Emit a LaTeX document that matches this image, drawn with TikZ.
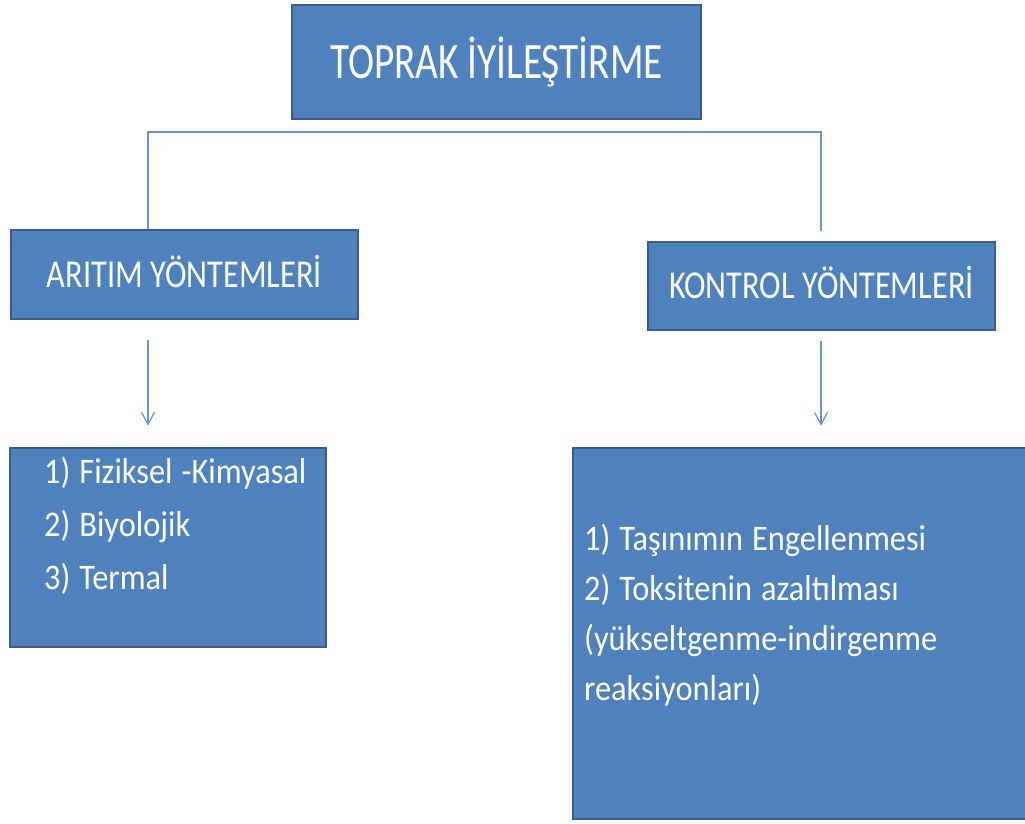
\documentclass[tikz,border=0pt]{standalone}
\usepackage{fontspec}
\setmainfont{Carlito}[FakeStretch=0.9]
\newfontfamily\headfont{Carlito}[FakeStretch=0.77]
\newfontfamily\midfont{Carlito}[FakeStretch=0.82]
\newcommand\bodysp{\spaceskip=9pt plus 1pt minus 1pt\relax}
\usetikzlibrary{arrows.meta}
\definecolor{boxfill}{HTML}{4F81BD}
\definecolor{boxline}{HTML}{385D8A}
\definecolor{conn}{HTML}{6A95CC}
\begin{document}
\begin{tikzpicture}[x=1pt,y=-1pt,
  box/.style={draw=boxline, fill=boxfill, line width=2.5pt, inner sep=0pt, text=white},
  conline/.style={draw=conn, line width=1.3pt},
  bodytext/.style={text=white, anchor=base west, inner sep=0pt, align=left}]
\useasboundingbox (0,0) rectangle (1025,823);
\node[box, minimum width=409pt, minimum height=114pt, text height=32pt, text depth=0pt,
      font=\headfont\fontsize{51}{60}\selectfont] (top) at (496.5,62) {TOPRAK İYİLEŞTİRME};
\node[box, minimum width=347pt, minimum height=89pt, text height=25pt, text depth=0pt,
      font=\midfont\fontsize{39.5}{47}\selectfont] (aritim) at (184.5,274.5) {ARITIM YÖNTEMLERİ};
\node[box, minimum width=347pt, minimum height=88pt, text height=25pt, text depth=0pt,
      font=\midfont\fontsize{39.5}{47}\selectfont] (kontrol) at (821.5,286) {KONTROL YÖNTEMLERİ};
\node[box, minimum width=316pt, minimum height=199pt] (lb) at (168,547.5) {};
\node[box, minimum width=457pt, minimum height=371pt] (rb) at (801.5,633.5) {};
\node[bodytext, text width=300pt, font=\fontsize{36}{53}\selectfont] (lbt) at (44,483)
  {\bodysp 1) Fiziksel -Kimyasal\\2) Biyolojik\\3) Termal};
\node[bodytext, text width=430pt, font=\fontsize{36}{50}\selectfont] (rbt) at (584,550)
  {\bodysp 1) Taşınımın Engellenmesi\\2) Toksitenin azaltılması\\(yükseltgenme-indirgenme\\reaksiyonları)};
\coordinate (jl) at (148,132);
\coordinate (jr) at (821,132);
\coordinate (rend) at (821,231);
\draw[conline] (aritim.north -| jl) -- (jl) -- (jr) -- (rend);
\draw[conline, -{Straight Barb[length=12pt,width=13pt]}] ([yshift=-20pt]aritim.south -| jl) -- ([yshift=21pt]lb.north -| jl);
\draw[conline, -{Straight Barb[length=12pt,width=13pt]}] ([yshift=-10pt]kontrol.south -| jr) -- ([yshift=21pt]rb.north -| jr);
\end{tikzpicture}
\end{document}
